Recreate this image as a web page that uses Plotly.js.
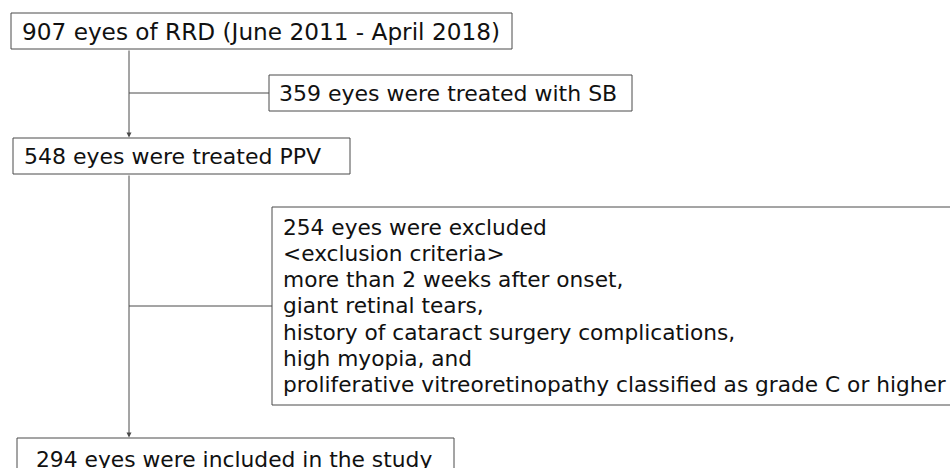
<!DOCTYPE html>
<html>
<head>
<meta charset="utf-8">
<script src="https://cdn.plot.ly/plotly-3.0.1.min.js"></script>
<style>html,body{margin:0;padding:0;background:#fff;}#chart{width:950px;height:468px;}</style>
</head>
<body>
<div id="chart"></div>
<script>
// ---- data ----
const stepCounts = [907, 359, 548, 254, 294];
const stepLabels = [
  "eyes of RRD (June 2011 - April 2018)",
  "eyes were treated with SB",
  "eyes were treated PPV",
  "eyes were excluded",
  "eyes were included in the study"
];
const exclusionCriteria = [
  "<exclusion criteria>",
  "more than 2 weeks after onset,",
  "giant retinal tears,",
  "history of cataract surgery complications,",
  "high myopia, and",
  "proliferative vitreoretinopathy classified as grade C or higher"
];

// ---- layout geometry (pixels in a 950x468 frame) ----
const FONT = "DejaVu Sans, Verdana, sans-serif";
const boxes = [
  {x0: 11, x1: 512, y0: 13, y1: 49, tx: 20, ty: 31, size: 23.2},
  {x0: 269, x1: 632, y0: 75, y1: 111, tx: 277, ty: 93, size: 22},
  {x0: 13, x1: 350, y0: 138, y1: 174, tx: 22, ty: 156, size: 22},
  {x0: 272, x1: 960, y0: 207, y1: 405, tx: 281, ty: 227, size: 21.7},
  {x0: 17, x1: 454, y0: 438, y1: 480, tx: 34, ty: 459, size: 21.8}
];
const lineStep = 26.3;
const lineColor = "#4a4a4a";
const textColor = "#111";
const spineX = 129;
const branchY = [93, 306];

const shapes = [];
const annotations = [];

boxes.forEach((b, i) => {
  shapes.push({type: "rect", xref: "x", yref: "y", x0: b.x0, x1: b.x1, y0: b.y0, y1: b.y1,
    line: {color: lineColor, width: 1}, fillcolor: "rgba(0,0,0,0)"});
  const lines = i === 3 ? [stepCounts[i] + " " + stepLabels[i]].concat(exclusionCriteria)
                        : [stepCounts[i] + " " + stepLabels[i]];
  lines.forEach((t, k) => {
    annotations.push({x: b.tx, y: b.ty + k * lineStep, xref: "x", yref: "y",
      text: t.replace(/</g, "&lt;").replace(/>/g, "&gt;"),
      showarrow: false, xanchor: "left", yanchor: "middle",
      font: {family: FONT, size: b.size, color: textColor}});
  });
});

// branch lines
shapes.push({type: "line", xref: "x", yref: "y", x0: spineX, x1: boxes[1].x0, y0: branchY[0], y1: branchY[0], line: {color: lineColor, width: 1}});
shapes.push({type: "line", xref: "x", yref: "y", x0: spineX, x1: boxes[3].x0, y0: branchY[1], y1: branchY[1], line: {color: lineColor, width: 1}});

// arrows down the spine
[[boxes[0].y1, boxes[2].y0], [boxes[2].y1, boxes[4].y0]].forEach(([a, z]) => {
  annotations.push({x: spineX, y: z - 0.5, ax: spineX, ay: a, xref: "x", yref: "y", axref: "x", ayref: "y",
    text: "", showarrow: true, arrowhead: 2, arrowsize: 1, arrowwidth: 1, arrowcolor: lineColor, standoff: 0, startstandoff: 0});
});

const layout = {
  width: 950, height: 468,
  margin: {l: 0, r: 0, t: 0, b: 0},
  paper_bgcolor: "#fff", plot_bgcolor: "#fff",
  xaxis: {range: [0, 950], visible: false, fixedrange: true},
  yaxis: {range: [468, 0], visible: false, fixedrange: true},
  shapes: shapes, annotations: annotations, showlegend: false
};
Plotly.newPlot("chart", [], layout, {staticPlot: true, displayModeBar: false});
</script>
</body>
</html>
